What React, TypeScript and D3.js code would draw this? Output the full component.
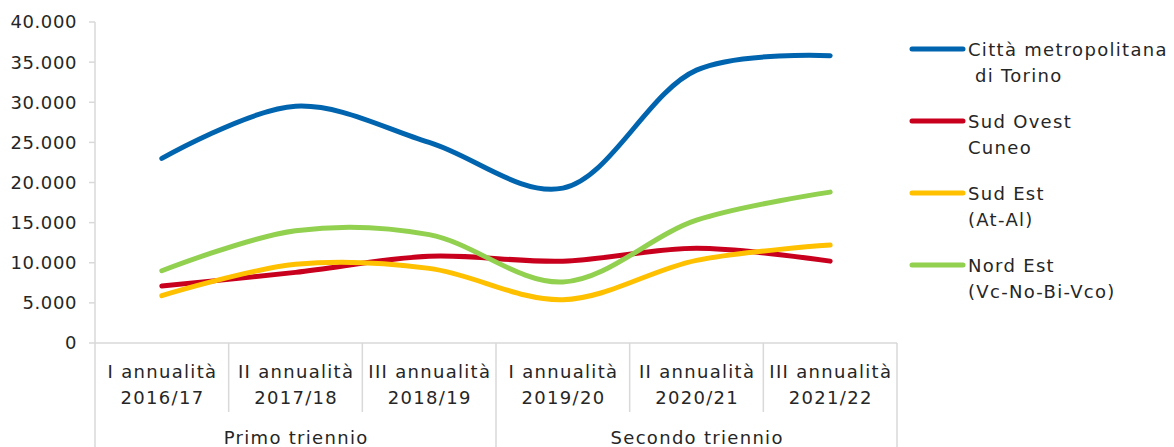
import React from "react";
import * as d3 from "d3";

const categoriesLine1 = ["I annualità", "II annualità", "III annualità", "I annualità", "II annualità", "III annualità"];
const categoriesLine2 = ["2016/17", "2017/18", "2018/19", "2019/20", "2020/21", "2021/22"];
const groups = ["Primo triennio", "Secondo triennio"];
const yTicks = [0, 5000, 10000, 15000, 20000, 25000, 30000, 35000, 40000];

const torino = [23000, 29500, 25000, 19300, 34000, 35800];
const sudOvest = [7100, 8800, 10800, 10200, 11800, 10200];
const sudEst = [5900, 9800, 9300, 5400, 10300, 12200];
const nordEst = [9000, 14000, 13500, 7600, 15300, 18800];

const seriesNames = [["Città metropolitana", " di Torino"], ["Sud Ovest", "Cuneo"], ["Sud Est", "(At-Al)"], ["Nord Est", "(Vc-No-Bi-Vco)"]];
const seriesData = [torino, sudOvest, sudEst, nordEst];
const colors = ["#0064AF", "#C8001E", "#FFC000", "#92D050"];

const FONT = "DejaVu Sans";
const TXT = "#262626";
const GRID = "#D9D9D9";

export default function App() {
  const W = 1174, H = 447;
  const left = 95, right = 897, top = 22, bottom = 343;
  const x = d3.scaleBand<number>().domain(d3.range(6)).range([left, right]);
  const y = d3.scaleLinear().domain([0, 40000]).range([bottom, top]);
  const line = d3.line<number>()
    .x((_, i) => x(i)! + x.bandwidth() / 2)
    .y((d) => y(d))
    .curve(d3.curveCatmullRom.alpha(0.5));
  const fmt = (v: number) => d3.format(",")(v).replace(/,/g, ".");
  const LS = 1.3;

  return (
    <svg width={W} height={H} style={{ position: "absolute", left: 0, top: 0 }} fontFamily={FONT}>
      {/* y axis */}
      <line x1={left} x2={left} y1={top} y2={H} stroke={GRID} strokeWidth={1.5} />
      {yTicks.map((t) => (
        <g key={t}>
          <line x1={left - 6} x2={left} y1={y(t)} y2={y(t)} stroke={GRID} strokeWidth={1.5} />
          <text x={left - 18} y={y(t)} dy="0.36em" textAnchor="end" fontSize={18} letterSpacing={0.6} fill={TXT}>{fmt(t)}</text>
        </g>
      ))}
      {/* x axis */}
      <line x1={left} x2={right} y1={bottom} y2={bottom} stroke={GRID} strokeWidth={1.5} />
      {d3.range(1, 6).map((i) => (
        <line key={i} x1={x(i)!} x2={x(i)!} y1={bottom} y2={i === 3 ? H : 412} stroke={GRID} strokeWidth={1.5} />
      ))}
      <line x1={right} x2={right} y1={bottom} y2={H} stroke={GRID} strokeWidth={1.5} />
      {categoriesLine1.map((c, i) => (
        <g key={i}>
          <text x={x(i)! + x.bandwidth() / 2 + LS / 2} y={378} textAnchor="middle" fontSize={18} letterSpacing={LS} fill={TXT}>{c}</text>
          <text x={x(i)! + x.bandwidth() / 2 + LS / 2} y={404} textAnchor="middle" fontSize={18} letterSpacing={LS} fill={TXT}>{categoriesLine2[i]}</text>
        </g>
      ))}
      {groups.map((g, gi) => (
        <text key={g} x={(x(gi * 3)! + x(gi * 3 + 2)! + x.bandwidth()) / 2 + LS / 2} y={444} textAnchor="middle" fontSize={18} letterSpacing={LS} fill={TXT}>{g}</text>
      ))}
      {/* lines */}
      {seriesData.map((s, si) => (
        <path key={si} d={line(s) || ""} fill="none" stroke={colors[si]} strokeWidth={5} strokeLinecap="round" />
      ))}
      {/* legend */}
      {seriesNames.map((n, si) => {
        const ly = 49 + si * 72;
        return (
          <g key={si}>
            <line x1={912} x2={963} y1={ly} y2={ly} stroke={colors[si]} strokeWidth={5} strokeLinecap="round" />
            <text x={968} y={ly + 7} fontSize={18} letterSpacing={LS} fill={TXT} style={{ whiteSpace: "pre" }}>{n[0]}</text>
            <text x={968} y={ly + 33} fontSize={18} letterSpacing={LS} fill={TXT} style={{ whiteSpace: "pre" }}>{n[1]}</text>
          </g>
        );
      })}
    </svg>
  );
}
